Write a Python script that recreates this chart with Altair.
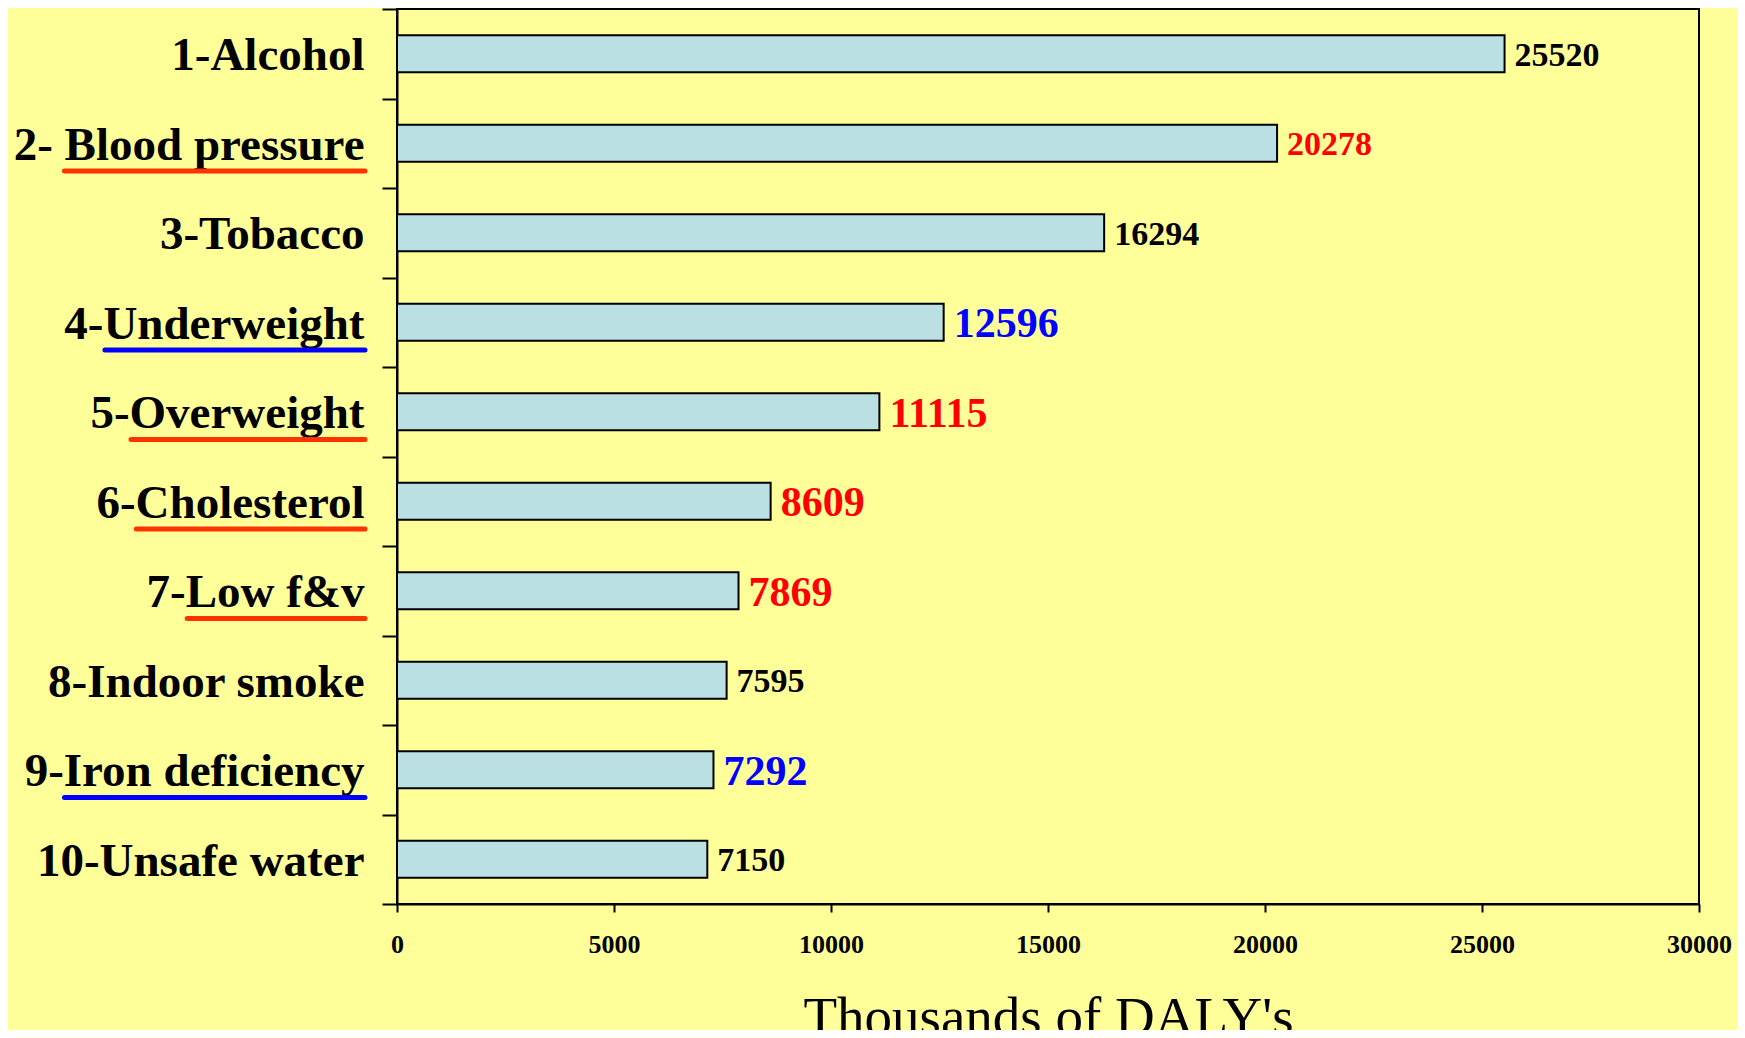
import altair as alt
import pandas as pd

# ---- data ----
categories = ["1-Alcohol", "2- Blood pressure", "3-Tobacco", "4-Underweight", "5-Overweight",
              "6-Cholesterol", "7-Low f&v", "8-Indoor smoke", "9-Iron deficiency", "10-Unsafe water"]
values = [25520, 20278, 16294, 12596, 11115, 8609, 7869, 7595, 7292, 7150]
value_colors = ["#000000", "#FF0000", "#000000", "#0000FF", "#FF0000",
                "#FF0000", "#FF0000", "#000000", "#0000FF", "#000000"]
value_sizes = [34, 34, 34, 42, 42, 42, 42, 34, 42, 34]
underlined = ["", "Blood pressure", "", "Underweight", "Overweight",
              "Cholesterol", "Low f&v", "", "Iron deficiency", ""]
underline_colors = ["", "#FF3300", "", "#0000FF", "#FF3300",
                    "#FF3300", "#FF3300", "", "#0000FF", ""]
x_ticks = [0, 5000, 10000, 15000, 20000, 25000, 30000]

# ---- style ----
FONT = "Liberation Serif"
LABEL_FS = 47
TICK_Y = 15
LABEL_PAD_Y = 18

# Times (Liberation Serif) Bold advance widths, per 1000 em
W = {" ": 250, "&": 833, "-": 333, "B": 667, "C": 722, "I": 389, "L": 667, "O": 778, "U": 722,
     "a": 500, "c": 444, "d": 556, "e": 444, "f": 333, "g": 500, "h": 556, "i": 278, "l": 278,
     "n": 556, "o": 500, "p": 556, "r": 444, "s": 389, "t": 333, "u": 556, "v": 500, "w": 722,
     "y": 500}


def text_width(s, fs):
    return sum(W.get(ch, 500) for ch in s) * fs / 1000.0


df = pd.DataFrame({"cat": categories, "value": values, "vcolor": value_colors, "vsize": value_sizes})

label_right = -(TICK_Y + LABEL_PAD_Y)
ul_rows = []
for c, word, col in zip(categories, underlined, underline_colors):
    if word:
        w = text_width(word, LABEL_FS)
        ul_rows.append({"cat": c, "ux1": label_right - w + 2, "ux2": label_right + 1, "ucolor": col})
ul = pd.DataFrame(ul_rows)

yscale = alt.Scale(domain=categories, paddingInner=0, paddingOuter=0)

y_enc = alt.Y(
    "cat:N", sort=categories, scale=yscale,
    axis=alt.Axis(title=None, labelFont=FONT, labelFontWeight="bold", labelFontSize=LABEL_FS,
                  labelColor="black", tickBand="extent", tickSize=TICK_Y, tickWidth=2,
                  tickColor="black", domainColor="black", domainWidth=2,
                  labelPadding=LABEL_PAD_Y, labelOffset=2, labelLimit=600),
)
x_enc = alt.X(
    "value:Q", scale=alt.Scale(domain=[0, 30000], nice=False),
    axis=alt.Axis(values=x_ticks, format="d", title="Thousands of DALY's", titleFont=FONT,
                  titleFontSize=55, titleFontWeight="normal", titleColor="black", titlePadding=34,
                  labelFont=FONT, labelFontSize=26, labelFontWeight="bold", labelColor="black",
                  labelFlush=False, labelOverlap=False, labelPadding=19,
                  tickSize=8, tickWidth=2, tickColor="black", domainColor="black",
                  domainWidth=2, grid=False),
)

bars = alt.Chart(df).mark_bar(size=37, fill="#BBE0E3", stroke="black", strokeWidth=2).encode(
    x=x_enc, y=y_enc)

labels = alt.Chart(df).mark_text(align="left", baseline="middle", dx=10, dy=2, font=FONT,
                                 fontWeight="bold").encode(
    x=alt.X("value:Q"),
    y=alt.Y("cat:N", sort=categories),
    text=alt.Text("value:Q", format="d"),
    color=alt.Color("vcolor:N", scale=None),
    size=alt.Size("vsize:Q", scale=None),
)

underlines = alt.Chart(ul).mark_rule(strokeWidth=5, strokeCap="round").encode(
    x=alt.X("ux1:Q", scale=None, axis=None),
    x2="ux2:Q",
    y=alt.Y("cat:N", sort=categories, bandPosition=0.81),
    color=alt.Color("ucolor:N", scale=None),
)

chart = (
    alt.layer(bars, labels, underlines)
    .properties(width=1302, height=895, autosize="none",
                padding={"left": 389, "top": 1, "right": 38, "bottom": 126},
                background="#FFFF99")
    .configure_view(stroke="black", strokeWidth=2, fill="#FFFF99")
)

chart.save("out.html", embed_options={"renderer": "svg", "actions": False})
